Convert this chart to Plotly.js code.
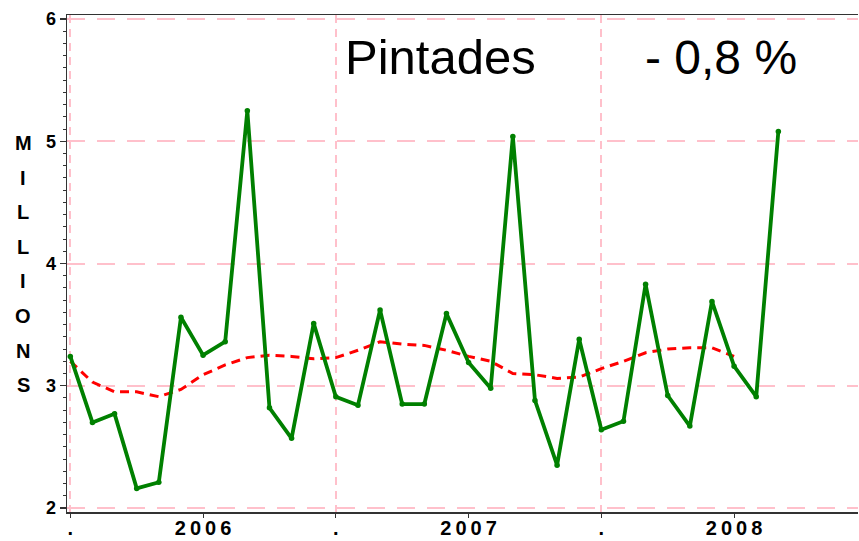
<!DOCTYPE html>
<html>
<head>
<meta charset="utf-8">
<script src="https://cdn.plot.ly/plotly-3.0.1.min.js"></script>
<style>html,body{margin:0;padding:0;background:#fff}#chart{width:859px;height:541px}</style>
</head>
<body>
<div id="chart"></div>
<script>
// ---- data ----
const months = [
  'Jan 2006','Feb 2006','Mar 2006','Apr 2006','May 2006','Jun 2006','Jul 2006','Aug 2006','Sep 2006','Oct 2006','Nov 2006','Dec 2006',
  'Jan 2007','Feb 2007','Mar 2007','Apr 2007','May 2007','Jun 2007','Jul 2007','Aug 2007','Sep 2007','Oct 2007','Nov 2007','Dec 2007',
  'Jan 2008','Feb 2008','Mar 2008','Apr 2008','May 2008','Jun 2008','Jul 2008','Aug 2008','Sep 2008'
];
const pintades = [
  3.24, 2.70, 2.77, 2.16, 2.21, 3.56, 3.25, 3.36, 5.25, 2.82, 2.57, 3.51,
  2.91, 2.84, 3.62, 2.85, 2.85, 3.59, 3.19, 2.98, 5.04, 2.88, 2.35, 3.38,
  2.64, 2.71, 3.83, 2.92, 2.67, 3.69, 3.16, 2.91, 5.08
];
const tendance = [
  3.20, 3.03, 2.95, 2.95, 2.91, 2.97, 3.09, 3.17, 3.23, 3.25, 3.24, 3.22,
  3.23, 3.29, 3.36, 3.34, 3.33, 3.29, 3.24, 3.20, 3.10, 3.09, 3.06, 3.07,
  3.14, 3.20, 3.27, 3.30, 3.31, 3.31, 3.24
];
const tickPositions = [0, 6, 12, 18, 24, 30];
const tickLabels = ['.', '2006', '.', '2007', '.', '2008'];
const yearStarts = [0, 12, 24];
const yTicks = [2, 3, 4, 5, 6];
const titleText = 'Pintades';
const changeText = '- 0,8 %';
const yTitle = 'MILLIONS';

// ---- chart ----
const xIdx = months.map((_, i) => i);
const FONT = '"Liberation Sans", Arial, sans-serif';
const spaced = s => s.split('').join('\u2009');
const GRID = '#ffc0cb';

const traces = [
  {
    x: xIdx.slice(0, tendance.length), y: tendance, type: 'scatter', mode: 'lines',
    line: {color: '#ff0000', width: 3, dash: '9px,6px'}, hoverinfo: 'skip'
  },
  {
    x: xIdx, y: pintades, type: 'scatter', mode: 'lines+markers',
    line: {color: '#008000', width: 3.8},
    marker: {color: '#008000', size: 5.5}
  }
];

// plot area in pixels: left 67, right 858, top 15, bottom 512
const pTop = 15, pBot = 512, pLeft = 67, pRight = 858;
const py = p => (pBot - p) / (pBot - pTop);
const px = p => (p - pLeft) / (pRight - pLeft);

const annotations = [
  {xref: 'paper', yref: 'paper', x: px(343), y: py(57), xanchor: 'left', yanchor: 'middle',
   text: titleText, showarrow: false, font: {family: FONT, size: 49, color: '#000'}},
  {xref: 'paper', yref: 'paper', x: px(643), y: py(57), xanchor: 'left', yanchor: 'middle',
   text: changeText, showarrow: false, font: {family: FONT, size: 48, color: '#000'}}
];
yTitle.split('').forEach((ch, i) => {
  annotations.push({xref: 'paper', yref: 'paper', x: px(23), y: py(143 + i * 34.6),
    xanchor: 'center', yanchor: 'middle', text: ch, showarrow: false,
    font: {family: FONT, size: 20, color: '#000', weight: 'bold'}});
});

const layout = {
  width: 859, height: 541,
  margin: {l: pLeft, r: 859 - pRight, t: pTop, b: 541 - pBot, pad: 0},
  paper_bgcolor: '#fff', plot_bgcolor: '#fff',
  showlegend: false,
  font: {family: FONT, color: '#000'},
  xaxis: {
    range: [-0.15, 35.6],
    tickmode: 'array', tickvals: tickPositions, ticktext: tickLabels.map(spaced),
    ticks: 'outside', ticklen: 4, tickwidth: 1, tickcolor: '#333',
    ticklabelstandoff: -7,
    tickfont: {family: FONT, size: 20, color: '#000', weight: 'bold'},
    showgrid: false, zeroline: false,
    showline: true, linecolor: '#333', linewidth: 1.5, mirror: true,
    minor: {tickmode: 'array', tickvals: yearStarts, ticks: '', showgrid: true,
            gridcolor: GRID, gridwidth: 2, griddash: '8px,6px'}
  },
  yaxis: {
    range: [1.967, 6.033],
    tickmode: 'array', tickvals: yTicks,
    ticks: 'outside', ticklen: 6, tickwidth: 1.5, tickcolor: '#333',
    tickfont: {family: FONT, size: 18, color: '#000', weight: 'bold'},
    showgrid: true, gridcolor: GRID, gridwidth: 2, griddash: '18px,12px',
    zeroline: false, showline: true, linecolor: '#333', linewidth: 1.5,
    minor: {dtick: 0.1, ticks: 'outside', ticklen: 3, tickwidth: 1, tickcolor: '#333', showgrid: false}
  },
  annotations: annotations
};

Plotly.newPlot('chart', traces, layout, {displayModeBar: false, staticPlot: true});
</script>
</body>
</html>
